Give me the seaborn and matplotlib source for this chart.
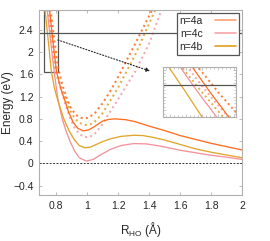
import numpy as np
import pandas as pd
import seaborn as sns
import matplotlib.pyplot as plt
from matplotlib.lines import Line2D
from matplotlib.patches import Rectangle

# curvas (R_HO en Å, energía en eV)
x_4a = [0.745, 0.758, 0.78, 0.803, 0.83, 0.856, 0.88, 0.91, 0.94, 0.975, 1.01, 1.05, 1.10, 1.14,
        1.18, 1.25, 1.31, 1.40, 1.50, 1.60, 1.70, 1.80, 1.90, 2.00]
y_4a = [3.05, 2.76, 2.20, 1.65, 1.35, 1.14, 0.93, 0.74, 0.63, 0.585, 0.60, 0.665, 0.76, 0.79,
        0.80, 0.785, 0.75, 0.67, 0.59, 0.50, 0.43, 0.36, 0.30, 0.24]

x_4b = [0.72, 0.729, 0.75, 0.77, 0.79, 0.815, 0.85, 0.885, 0.92, 0.95, 0.985, 1.02, 1.06, 1.10,
        1.15, 1.22, 1.30, 1.36, 1.42, 1.50, 1.60, 1.70, 1.80, 1.90, 2.00]
y_4b = [3.00, 2.76, 2.20, 1.65, 1.35, 1.10, 0.80, 0.58, 0.415, 0.32, 0.28, 0.29, 0.34, 0.39,
        0.44, 0.485, 0.505, 0.50, 0.47, 0.42, 0.34, 0.26, 0.20, 0.15, 0.10]

x_4c = [0.735, 0.743, 0.765, 0.788, 0.80, 0.813, 0.84, 0.865, 0.888, 0.92, 0.95, 0.995, 1.04,
        1.08, 1.15, 1.22, 1.30, 1.38, 1.45, 1.51, 1.60, 1.70, 1.80, 1.90, 2.00]
y_4c = [3.00, 2.76, 2.20, 1.65, 1.40, 1.14, 0.80, 0.58, 0.41, 0.22, 0.10, 0.04, 0.07,
        0.14, 0.25, 0.32, 0.355, 0.35, 0.32, 0.29, 0.235, 0.19, 0.145, 0.11, 0.07]

# curvas punteadas
xd_4a = [0.755, 0.765, 0.79, 0.812, 0.84, 0.873, 0.90, 0.93, 0.96, 0.985, 1.01, 1.05, 1.10,
         1.15, 1.20, 1.31, 1.42, 1.46]
yd_4a = [3.00, 2.76, 2.20, 1.75, 1.42, 1.14, 0.97, 0.87, 0.82, 0.81, 0.82, 0.90, 1.08,
         1.30, 1.55, 2.15, 2.76, 3.00]

xd_4b = [0.735, 0.745, 0.77, 0.796, 0.83, 0.866, 0.89, 0.92, 0.95, 0.985, 1.02, 1.05, 1.10,
         1.135, 1.20, 1.31, 1.44, 1.48]
yd_4b = [3.00, 2.76, 2.20, 1.65, 1.38, 1.14, 0.96, 0.81, 0.73, 0.69, 0.70, 0.75, 0.90,
         1.06, 1.36, 1.95, 2.76, 3.00]

xd_4c = [0.745, 0.752, 0.776, 0.80, 0.83, 0.86, 0.89, 0.92, 0.95, 0.975, 0.995, 1.02, 1.05,
         1.10, 1.135, 1.20, 1.31, 1.40, 1.48, 1.52]
yd_4c = [3.00, 2.76, 2.20, 1.70, 1.35, 1.06, 0.82, 0.64, 0.53, 0.48, 0.47, 0.48, 0.53,
         0.70, 0.87, 1.15, 1.65, 2.15, 2.76, 3.00]

etiquetas = ['n=4a', 'n=4c', 'n=4b']
x_ticks = [0.8, 1.0, 1.2, 1.4, 1.6, 1.8, 2.0]
y_ticks = [-0.4, 0, 0.4, 0.8, 1.2, 1.6, 2.0, 2.4]

c_4a = '#ff6d1f'
c_4b = '#e0a52a'
c_4c = '#f4929c'

sns.set_theme(style="ticks")
plt.rcParams['font.family'] = ['Liberation Sans', 'DejaVu Sans']
plt.rcParams['mathtext.fontset'] = 'custom'
plt.rcParams['mathtext.rm'] = 'Liberation Sans'

fig = plt.figure(figsize=(2.7, 2.41), dpi=100)
ax = fig.add_axes([0.1444, 0.191, 0.752, 0.7675])


def dibujar(eje, lw):
    dot = (0, (1, 1.6))
    sns.lineplot(x=xd_4a, y=yd_4a, ax=eje, color=c_4a, lw=lw + 0.5, linestyle=dot, alpha=0.9)
    sns.lineplot(x=xd_4b, y=yd_4b, ax=eje, color=c_4b, lw=lw + 0.5, linestyle=dot, alpha=0.9)
    sns.lineplot(x=xd_4c, y=yd_4c, ax=eje, color=c_4c, lw=lw + 0.5, linestyle=dot, alpha=0.8)
    sns.lineplot(x=x_4c, y=y_4c, ax=eje, color=c_4c, lw=lw)
    sns.lineplot(x=x_4b, y=y_4b, ax=eje, color=c_4b, lw=lw)
    sns.lineplot(x=x_4a, y=y_4a, ax=eje, color=c_4a, lw=lw)
    eje.axhline(2.35, color='#555555', lw=0.9)


dibujar(ax, 0.95)
ax.axhline(0, color='#333333', lw=0.7, linestyle=(0, (2, 1.5)))

ax.set_xlim(0.69, 2.0)
ax.set_ylim(-0.57, 2.76)
ax.set_xticks(x_ticks)
ax.set_xticklabels([f'{v:g}' for v in x_ticks])
ax.set_yticks(y_ticks)
ax.set_yticklabels([f'{v:g}'.replace('-', '\u2212') for v in y_ticks])
ax.tick_params(direction='in', length=2.5, width=0.6, color='#b0b0b0', labelsize=7.5,
               top=True, right=True, pad=4)
for s in ax.spines.values():
    s.set_color('#b0b0b0')
    s.set_linewidth(0.8)

ax.set_xlabel('R$_{\\mathregular{HO}}$ (Å)', fontsize=8.5, labelpad=7)
ax.set_ylabel('Energy (eV)', fontsize=8.5)
ax.yaxis.set_label_coords(-0.125, 0.5)

# rectángulo de zoom
ax.add_patch(Rectangle((0.722, 1.65), 0.09, 1.2, fill=False, edgecolor='#555555', lw=0.9))
ax.annotate('', xy=(0.556, 0.705), xycoords='figure fraction', xytext=(0.812, 2.22),
            textcoords='data',
            arrowprops=dict(arrowstyle='-|>', linestyle=':', color='#222222', lw=0.8,
                            mutation_scale=6, shrinkA=0, shrinkB=0))

handles = [Line2D([], [], color='#ffa070', lw=1.2),
           Line2D([], [], color='#f8a4ac', lw=1.2),
           Line2D([], [], color='#e0a020', lw=1.2)]
leg = ax.legend(handles, etiquetas, loc='upper right', markerfirst=False, fontsize=7.5,
                frameon=True, fancybox=False, edgecolor='#555555', framealpha=1,
                borderaxespad=0.25, handlelength=2.0, labelspacing=0.3, borderpad=0.3,
                handletextpad=1.2)
leg.get_frame().set_linewidth(0.9)

# inset ampliado
axin = fig.add_axes([0.604, 0.515, 0.27, 0.207])
dibujar(axin, 0.9)
axin.set_xlim(0.722, 0.812)
axin.set_ylim(1.65, 2.76)
axin.set_xticks(np.arange(0.73, 0.81, 0.02))
axin.set_yticks([1.8, 2.1, 2.4, 2.7])
axin.minorticks_on()
axin.set_xticklabels([])
axin.set_yticklabels([])
axin.tick_params(which='both', direction='in', length=2, width=0.5, color='#b0b0b0',
                 top=True, right=True)
axin.tick_params(which='minor', length=1.2)
for s in axin.spines.values():
    s.set_color('#b0b0b0')
    s.set_linewidth(0.8)
axin.set_xlabel('')
axin.set_ylabel('')

fig.savefig('out.png', dpi=100)
